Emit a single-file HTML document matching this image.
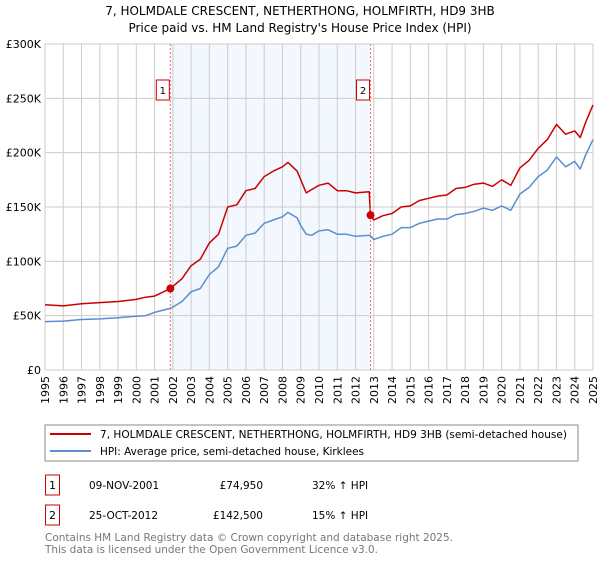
<!DOCTYPE html>
<html><head><meta charset="utf-8"><style>
body{margin:0;background:#fff;font-family:"DejaVu Sans","Liberation Sans",sans-serif;}
svg text{font-family:"DejaVu Sans","Liberation Sans",sans-serif;}
</style></head><body>
<svg id="c" width="600" height="560" xmlns="http://www.w3.org/2000/svg">
<text x="300" y="15" font-size="12" text-anchor="middle">7, HOLMDALE CRESCENT, NETHERTHONG, HOLMFIRTH, HD9 3HB</text>
<text x="300" y="32" font-size="12" text-anchor="middle">Price paid vs. HM Land Registry's House Price Index (HPI)</text>
<g id="plot"></g>
<rect x="45" y="425" width="533" height="36" fill="#fff" stroke="#888"/>
<line x1="50" y1="434" x2="91" y2="434" stroke="#cc0000" stroke-width="2"/>
<text x="100" y="438" font-size="10.5" textLength="467" lengthAdjust="spacingAndGlyphs">7, HOLMDALE CRESCENT, NETHERTHONG, HOLMFIRTH, HD9 3HB (semi-detached house)</text>
<line x1="50" y1="451" x2="91" y2="451" stroke="#5b8dd0" stroke-width="2"/>
<text x="100" y="455" font-size="10.5" textLength="264" lengthAdjust="spacingAndGlyphs">HPI: Average price, semi-detached house, Kirklees</text>
<rect x="45.5" y="475" width="14" height="20" fill="#fff" stroke="#cc0000"/>
<text x="52.5" y="489" font-size="11" text-anchor="middle">1</text>
<text x="89" y="489" font-size="10.5">09-NOV-2001</text>
<text x="263" y="489" font-size="10.5" text-anchor="end">£74,950</text>
<text x="312" y="489" font-size="10.5">32% ↑ HPI</text>
<rect x="45.5" y="505" width="14" height="20" fill="#fff" stroke="#cc0000"/>
<text x="52.5" y="519" font-size="11" text-anchor="middle">2</text>
<text x="89" y="519" font-size="10.5">25-OCT-2012</text>
<text x="263" y="519" font-size="10.5" text-anchor="end">£142,500</text>
<text x="312" y="519" font-size="10.5">15% ↑ HPI</text>
<text x="45" y="541" font-size="10.5" fill="#777" textLength="408" lengthAdjust="spacingAndGlyphs">Contains HM Land Registry data © Crown copyright and database right 2025.</text>
<text x="45" y="553" font-size="10.5" fill="#777" textLength="333" lengthAdjust="spacingAndGlyphs">This data is licensed under the Open Government Licence v3.0.</text>
</svg>
<script>
const yTicks=[0,50,100,150,200,250,300];
const yTickLabels=["£0","£50K","£100K","£150K","£200K","£250K","£300K"];
const years=[1995,1996,1997,1998,1999,2000,2001,2002,2003,2004,2005,2006,2007,2008,2009,2010,2011,2012,2013,2014,2015,2016,2017,2018,2019,2020,2021,2022,2023,2024,2025];
const hpiT=[1995,1996,1997,1998,1999,2000,2000.5,2001,2001.9,2002.5,2003,2003.5,2004,2004.5,2005,2005.5,2006,2006.5,2007,2007.5,2008,2008.3,2008.8,2009,2009.3,2009.6,2010,2010.5,2011,2011.5,2012,2012.8,2013,2013.5,2014,2014.5,2015,2015.5,2016,2016.5,2017,2017.5,2018,2018.5,2019,2019.5,2020,2020.5,2021,2021.5,2022,2022.5,2023,2023.5,2024,2024.3,2024.6,2025];
const hpiV=[44.5,45,46.5,47,48,49.5,50,53,57,63,72,75,88,95,112,114,124,126,135,138,141,145,140,133,125,124,128,129,125,125,123,124,120,123,125,131,131,135,137,139,139,143,144,146,149,147,151,147,162,168,178,184,196,187,192,185,198,212];
const propT=[1995,1996,1997,1998,1999,2000,2000.5,2001,2001.86,2002.5,2003,2003.5,2004,2004.5,2005,2005.5,2006,2006.5,2007,2007.5,2008,2008.3,2008.8,2009.1,2009.3,2009.7,2010,2010.5,2011,2011.5,2012,2012.75,2012.82,2013,2013.5,2014,2014.5,2015,2015.5,2016,2016.5,2017,2017.5,2018,2018.5,2019,2019.5,2020,2020.5,2021,2021.5,2022,2022.5,2023,2023.5,2024,2024.3,2024.6,2025];
const propV=[60,59,61,62,63,65,67,68,74.95,84,96,102,117,125,150,152,165,167,178,183,187,191,183,171,163,167,170,172,165,165,163,164,142.5,138,142,144,150,151,156,158,160,161,167,168,171,172,169,175,170,186,193,204,212,226,217,220,214,228,244];
const saleT=[2001.86,2012.82];
const saleV=[74.95,142.5];
const saleLabels=["1","2"];
const X0=45,X1=593,Y0=370,Y1=44;
const xs=t=>X0+(t-1995)/(2025-1995)*(X1-X0);
const ys=v=>Y0-v/300*(Y0-Y1);
const NS="http://www.w3.org/2000/svg";
const g=document.getElementById('plot');
function mk(tag,attrs,parent){const e=document.createElementNS(NS,tag);for(const k in attrs)e.setAttribute(k,attrs[k]);(parent||g).appendChild(e);return e;}
let e=mk('rect',{x:X0,y:Y1,width:X1-X0,height:Y0-Y1,fill:'#fff'});


e=mk('rect',{x:xs(saleT[0]),y:Y1,width:xs(saleT[1])-xs(saleT[0]),height:Y0-Y1,fill:'#eef3fd',opacity:0.7});


years.forEach(yr=>{
 const x=xs(yr);
 let l=mk('line',{x1:x,y1:Y1,x2:x,y2:Y0,stroke:'#cccccc','stroke-width':1});
 
 
 let t=mk('text',{x:0,y:0,'font-size':11,'text-anchor':'end',transform:`translate(${x+4},376) rotate(-90)`});
 t.textContent=yr;
 
 
});
yTicks.forEach((v,i)=>{
 const y=ys(v);
 let l=mk('line',{x1:X0,y1:y,x2:X1,y2:y,stroke:'#cccccc','stroke-width':1});
 
 
 let t=mk('text',{x:X0-4,y:y+4,'font-size':11,'text-anchor':'end'});
 t.textContent=yTickLabels[i];
 
 
});
function line(T,V,color,name){
 const d=T.map((t,i)=>(i?'L':'M')+xs(t).toFixed(1)+','+ys(V[i]).toFixed(1)).join('');
 const p=mk('path',{d:d,fill:'none',stroke:color,'stroke-width':1.5,'stroke-linejoin':'round'});
 
 
}
line(hpiT,hpiV,'#5b8dd0','hpi-line');
line(propT,propV,'#cc0000','property-price-line');
saleT.forEach((t,i)=>{
 const x=xs(t);
 let l=mk('line',{x1:x,y1:Y1,x2:x,y2:Y0,stroke:'#ff6666','stroke-width':1,'stroke-dasharray':'2,2'});
 
 
 let c=mk('circle',{cx:x,cy:ys(saleV[i]),r:4,fill:'#cc0000'});
 
 
 let r=mk('rect',{x:x-14,y:80,width:13,height:20,fill:'#fff',stroke:'#cc0000'});
 
 
 let tx=mk('text',{x:x-7.5,y:94,'font-size':10,'text-anchor':'middle'});
 tx.textContent=saleLabels[i];
 
 
});
</script>
</body></html>
